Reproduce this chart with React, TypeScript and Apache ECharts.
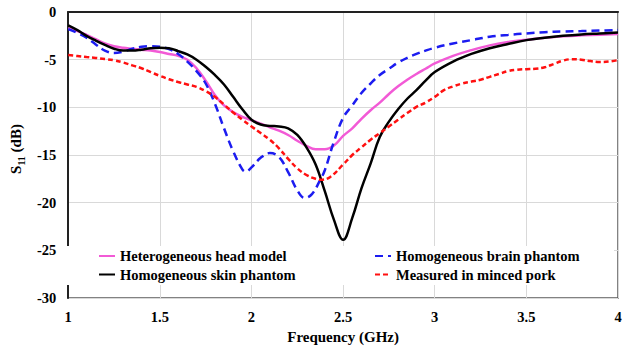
import React, { useEffect, useRef } from "react";
import * as echarts from "echarts";

const xTicks = [1, 1.5, 2, 2.5, 3, 3.5, 4];
const yTicks = [-30, -25, -20, -15, -10, -5, 0];

const seriesNames = [
  "Heterogeneous head model",
  "Homogeneous brain phantom",
  "Homogeneous skin phantom",
  "Measured in minced pork",
];

const headFreq = [1.0, 1.05, 1.1, 1.15, 1.2, 1.25, 1.3, 1.35, 1.4, 1.45, 1.5, 1.55, 1.6, 1.65, 1.7, 1.75, 1.8, 1.85, 1.9, 1.95, 2.0, 2.05, 2.1, 2.15, 2.2, 2.25, 2.3, 2.35, 2.4, 2.45, 2.5, 2.55, 2.6, 2.65, 2.7, 2.75, 2.8, 2.85, 2.9, 2.95, 3.0, 3.1, 3.2, 3.3, 3.4, 3.5, 3.6, 3.7, 3.8, 3.9, 4.0];
const headS11 = [-1.7, -2.0, -2.4, -2.85, -3.3, -3.6, -3.75, -3.85, -3.95, -4.05, -4.2, -4.4, -4.6, -5.0, -5.9, -7.2, -8.7, -9.8, -10.5, -11.0, -11.35, -11.7, -12.1, -12.45, -12.9, -13.5, -14.05, -14.4, -14.4, -14.0, -13.0, -12.2, -11.2, -10.3, -9.5, -8.6, -7.8, -7.1, -6.5, -5.95, -5.4, -4.6, -4.0, -3.5, -3.15, -2.9, -2.7, -2.55, -2.45, -2.38, -2.3];

const brainFreq = [1.0, 1.05, 1.1, 1.15, 1.2, 1.25, 1.3, 1.35, 1.4, 1.45, 1.5, 1.55, 1.6, 1.65, 1.7, 1.75, 1.8, 1.85, 1.9, 1.95, 1.97, 2.0, 2.05, 2.1, 2.15, 2.2, 2.25, 2.29, 2.33, 2.37, 2.4, 2.45, 2.5, 2.55, 2.6, 2.65, 2.7, 2.75, 2.8, 2.85, 2.9, 2.95, 3.0, 3.1, 3.2, 3.3, 3.4, 3.5, 3.6, 3.7, 3.8, 3.9, 4.0];
const brainS11 = [-1.8, -2.2, -2.7, -3.4, -4.05, -4.3, -4.15, -3.85, -3.65, -3.6, -3.65, -3.9, -4.4, -5.2, -6.2, -7.5, -9.6, -12.2, -14.6, -16.5, -16.75, -16.3, -15.3, -14.8, -15.2, -16.8, -18.7, -19.5, -19.1, -17.8, -16.6, -13.6, -11.1, -9.8, -8.5, -7.5, -6.6, -5.95, -5.3, -4.8, -4.4, -4.05, -3.75, -3.3, -2.95, -2.6, -2.4, -2.25, -2.12, -2.05, -2.0, -1.95, -1.9];

const skinFreq = [1.0, 1.05, 1.1, 1.15, 1.2, 1.25, 1.3, 1.35, 1.4, 1.45, 1.5, 1.55, 1.6, 1.65, 1.7, 1.75, 1.8, 1.85, 1.9, 1.95, 2.0, 2.05, 2.1, 2.15, 2.2, 2.25, 2.3, 2.35, 2.4, 2.45, 2.5, 2.55, 2.6, 2.65, 2.7, 2.75, 2.8, 2.85, 2.9, 2.95, 3.0, 3.1, 3.2, 3.3, 3.4, 3.5, 3.6, 3.7, 3.8, 3.9, 4.0];
const skinS11 = [-1.4, -1.9, -2.5, -3.0, -3.45, -3.85, -4.05, -4.05, -3.95, -3.8, -3.75, -3.8, -4.1, -4.45, -5.0, -5.75, -6.6, -7.6, -8.9, -10.2, -11.3, -11.8, -11.95, -12.0, -12.2, -12.9, -14.2, -16.0, -18.8, -21.8, -23.9, -21.6, -18.5, -15.9, -13.1, -11.5, -10.2, -9.1, -8.2, -7.2, -6.3, -5.2, -4.4, -3.8, -3.35, -2.95, -2.7, -2.5, -2.35, -2.25, -2.15];

const porkFreq = [1.0, 1.05, 1.1, 1.15, 1.2, 1.25, 1.3, 1.35, 1.4, 1.45, 1.5, 1.55, 1.6, 1.65, 1.7, 1.75, 1.8, 1.85, 1.9, 1.95, 2.0, 2.05, 2.1, 2.15, 2.2, 2.25, 2.3, 2.35, 2.38, 2.43, 2.5, 2.55, 2.6, 2.65, 2.7, 2.75, 2.8, 2.85, 2.9, 2.95, 3.0, 3.05, 3.1, 3.15, 3.2, 3.25, 3.3, 3.35, 3.4, 3.45, 3.5, 3.55, 3.6, 3.65, 3.7, 3.75, 3.8, 3.85, 3.9, 3.95, 4.0];
const porkS11 = [-4.52, -4.62, -4.72, -4.82, -4.93, -5.07, -5.3, -5.6, -5.9, -6.3, -6.7, -7.05, -7.35, -7.6, -7.85, -8.3, -8.9, -9.7, -10.55, -11.3, -12.0, -12.7, -13.4, -14.3, -15.4, -16.4, -17.1, -17.5, -17.6, -17.3, -16.0, -15.0, -14.2, -13.4, -12.7, -12.0, -11.3, -10.6, -9.95, -9.5, -8.9, -8.2, -7.8, -7.5, -7.3, -7.1, -6.8, -6.5, -6.2, -6.05, -6.0, -5.95, -5.8, -5.45, -5.1, -4.95, -5.0, -5.15, -5.25, -5.2, -5.05];

const FONT = "Liberation Serif";

function pairs(xs: number[], ys: number[]) {
  return xs.map((x, i) => [x, ys[i]]);
}

export default function App() {
  const ref = useRef<HTMLDivElement>(null);
  useEffect(() => {
    if (!ref.current) return;
    const chart = echarts.init(ref.current, undefined, { renderer: "svg" });
    const mkSeries = (name: string, data: number[][], color: string, type: any) => ({
      name,
      type: "line",
      data,
      smooth: 0.4,
      symbol: "none",
      lineStyle: { color, width: 2.5, type },
      itemStyle: { color },
      z: 3,
    });
    const legendText = {
      fontFamily: FONT,
      fontWeight: "bold",
      fontSize: 14.5,
      lineHeight: 18,
      color: "#000",
    };
    chart.setOption({
      animation: false,
      backgroundColor: "#fff",
      textStyle: { fontFamily: FONT },
      grid: {
        left: 61,
        right: 13,
        top: 12,
        bottom: 55,
        show: true,
        borderColor: "#595959",
        borderWidth: 1.5,
      },
      xAxis: {
        type: "value",
        min: xTicks[0],
        max: xTicks[xTicks.length - 1],
        interval: 0.5,
        name: "Frequency (GHz)",
        nameLocation: "middle",
        nameGap: 31,
        nameTextStyle: { fontFamily: FONT, fontWeight: "bold", fontSize: 15, color: "#000" },
        axisLine: { show: true, lineStyle: { color: "#222", width: 2 } },
        axisTick: { show: false },
        axisLabel: { fontFamily: FONT, fontWeight: "bold", fontSize: 14.5, color: "#000", margin: 11 },
        splitLine: { show: true, lineStyle: { color: "#d9d9d9", width: 1 } },
      },
      yAxis: {
        type: "value",
        min: yTicks[0],
        max: yTicks[yTicks.length - 1],
        interval: 5,
        name: "{s|S}{sub|11}{s| (dB)}",
        nameLocation: "middle",
        nameGap: 35,
        nameTextStyle: {
          padding: [0, 0, 0, 12],
          rich: {
            s: { fontFamily: FONT, fontWeight: "bold", fontSize: 15, color: "#000", lineHeight: 18, verticalAlign: "top" },
            sub: { fontFamily: FONT, fontWeight: "bold", fontSize: 10, color: "#000", lineHeight: 10, verticalAlign: "bottom" },
          },
        },
        axisLine: { show: true, lineStyle: { color: "#222", width: 2 } },
        axisTick: { show: false },
        axisLabel: { fontFamily: FONT, fontWeight: "bold", fontSize: 14.5, color: "#000", margin: 12 },
        splitLine: { show: true, lineStyle: { color: "#d9d9d9", width: 1 } },
      },
      graphic: [
        {
          type: "rect",
          z: 1,
          silent: true,
          shape: { x: 63, y: 246, width: 551, height: 39 },
          style: { fill: "#fff" },
        },
      ],
      legend: [
        {
          left: 98,
          top: 247,
          orient: "vertical",
          padding: 0,
          itemWidth: 16,
          itemHeight: 10,
          itemGap: 0.5,
          itemStyle: { opacity: 0 },
          data: [seriesNames[0], seriesNames[2]],
          textStyle: legendText,
        },
        {
          left: 374,
          top: 247,
          orient: "vertical",
          padding: 0,
          itemWidth: 16,
          itemHeight: 10,
          itemGap: 0.5,
          itemStyle: { opacity: 0 },
          data: [seriesNames[1], seriesNames[3]],
          textStyle: legendText,
        },
      ],
      series: [
        mkSeries(seriesNames[0], pairs(headFreq, headS11), "#f25ad6", "solid"),
        mkSeries(seriesNames[1], pairs(brainFreq, brainS11), "#1c1cf0", [8, 5]),
        mkSeries(seriesNames[2], pairs(skinFreq, skinS11), "#000000", "solid"),
        mkSeries(seriesNames[3], pairs(porkFreq, porkS11), "#ff1010", [5, 3]),
      ],
    });
    return () => chart.dispose();
  }, []);
  return (
    <div
      ref={ref}
      style={{ position: "fixed", left: 0, top: 0, width: 631, height: 353, background: "#fff" }}
    />
  );
}
